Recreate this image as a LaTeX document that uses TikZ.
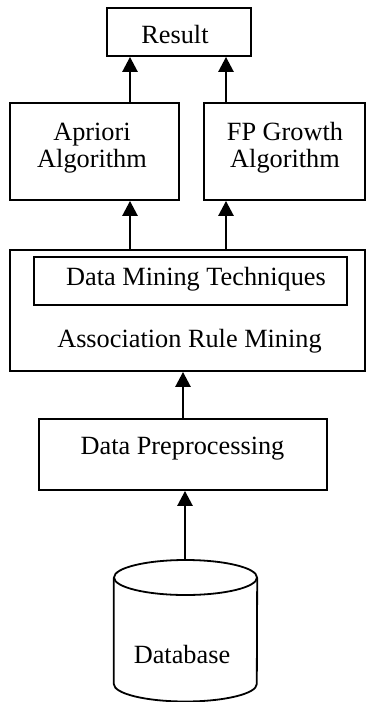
\documentclass[tikz,border=0pt]{standalone}
\usepackage{fontspec}
\setmainfont{Liberation Serif}
\usetikzlibrary{arrows.meta}
\begin{document}
\begin{tikzpicture}[x=1pt,y=-1pt,
  box/.style={draw,line width=1.8pt,rectangle,inner sep=0pt},
  lbl/.style={anchor=base,inner sep=0pt,font=\fontsize{26.3}{27}\selectfont,align=center},
  arr/.style={line width=2.6pt,-{Triangle[width=15pt,length=15pt]}},
  cyl/.style={line width=1.8pt}]
\useasboundingbox (0,0) rectangle (366,702);
\fill[white] (0,0) rectangle (366,702);
% boxes
\node[box,minimum width=144pt,minimum height=48pt] (res) at (179,32) {};
\node[box,minimum width=169pt,minimum height=97pt] (apr) at (94.5,151.5) {};
\node[box,minimum width=161pt,minimum height=97pt] (fp) at (284.5,151.5) {};
\node[box,minimum width=355pt,minimum height=121pt] (arm) at (187.5,310.5) {};
\node[box,minimum width=313pt,minimum height=48pt] (dmt) at (190.5,281) {};
\node[box,minimum width=288pt,minimum height=71pt] (dp) at (183,454.5) {};
\node[inner sep=0pt,minimum width=143pt,minimum height=142pt] (db) at (185.5,631) {};
% cylinder
\draw[cyl] (db.north west |- 0,577.5) -- (db.north west |- 0,684)
  arc[start angle=180,end angle=360,x radius=71.5pt,y radius=17.5pt]
  -- (db.north east |- 0,577.5);
\draw[cyl] (185.5,577.5) ellipse [x radius=71.5pt,y radius=17.5pt];
% labels
\node[lbl] (tres) at (175,43) {Result};
\node[lbl] (tapr) at (92,167) {Apriori\\Algorithm};
\node[lbl] (tfp) at (285,167) {FP Growth\\Algorithm};
\node[lbl] (tdmt) at (196,285) {Data Mining Techniques};
\node[lbl] (tarm) at (189.5,347) {Association Rule Mining};
\node[lbl] (tdp) at (182.5,454) {Data Preprocessing};
\node[lbl] (tdb) at (182,663) {Database};
% arrows
\coordinate (xa) at (130,0);
\coordinate (xb) at (226,0);
\coordinate (xc) at (183,0);
\coordinate (xd) at (185,0);
\draw[arr] (apr.north -| xa) -- (res.south -| xa);
\draw[arr] (fp.north -| xb) -- (res.south -| xb);
\draw[arr] (arm.north -| xa) -- (apr.south -| xa);
\draw[arr] (arm.north -| xb) -- (fp.south -| xb);
\draw[arr] (dp.north -| xc) -- (arm.south -| xc);
\draw[arr] (db.north -| xd) -- (dp.south -| xd);
\end{tikzpicture}
\end{document}
